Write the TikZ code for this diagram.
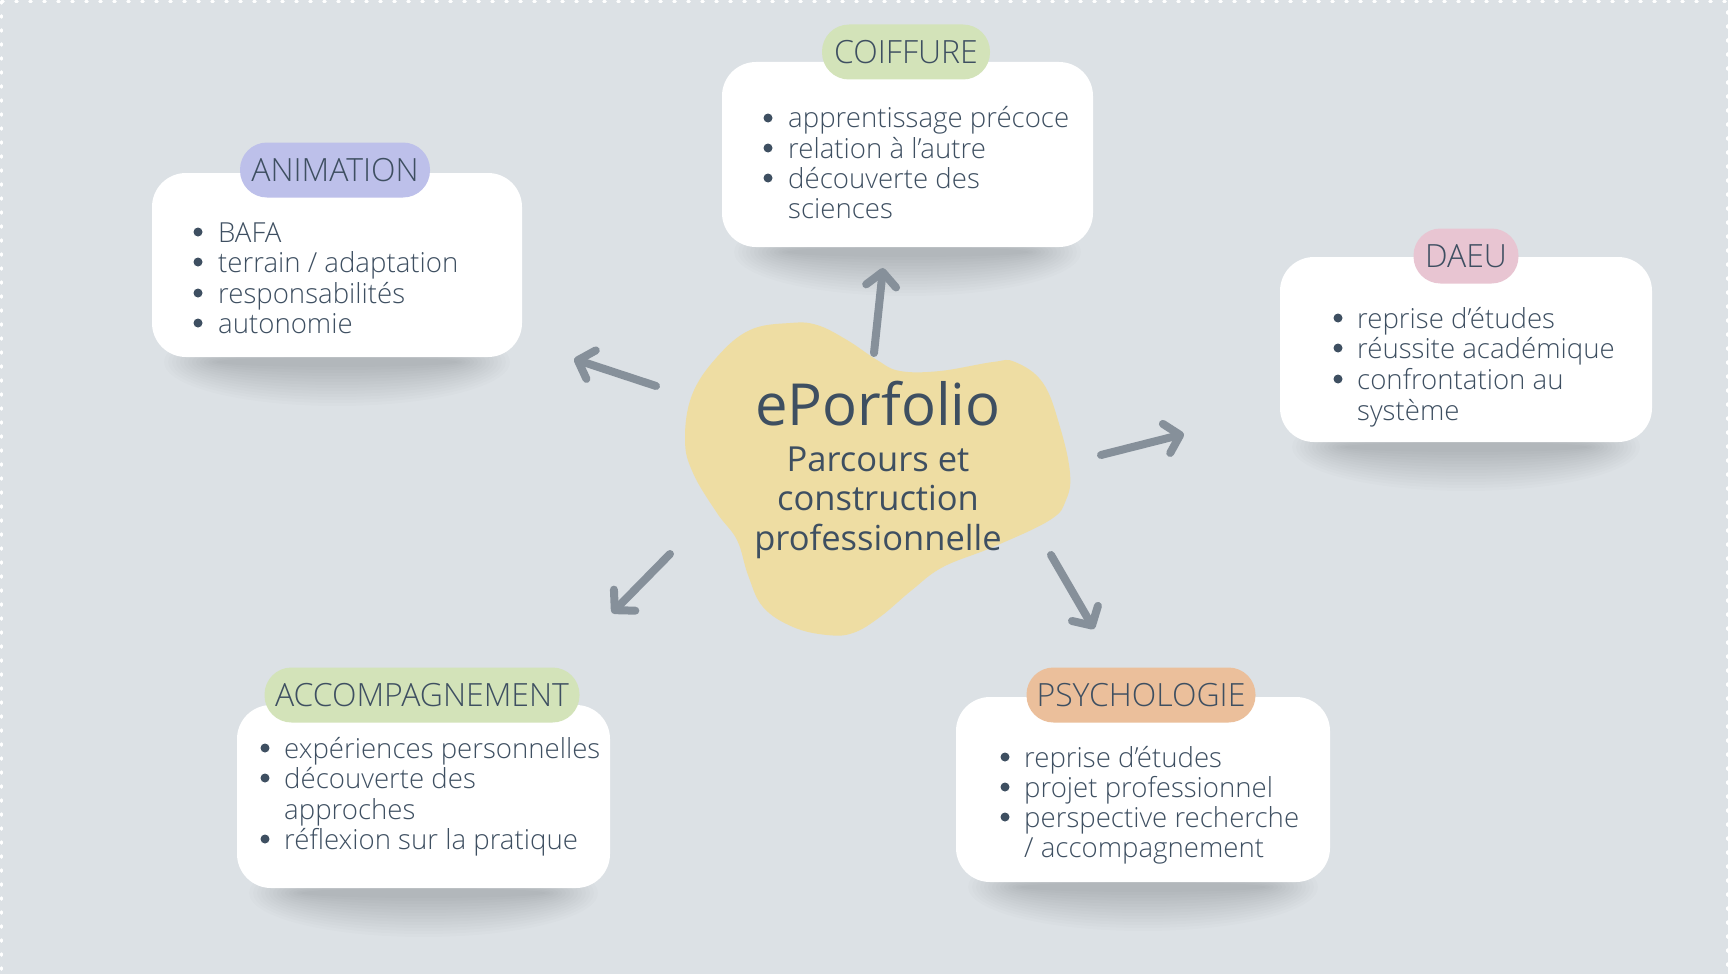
\documentclass[tikz,border=0pt]{standalone}
\usepackage{fontspec}
\setmainfont{Open Sans}
\IfFontExistsTF{Open Sans Light}{\newfontfamily\lightfont{Open Sans Light}}{\newfontfamily\lightfont{Open Sans}}
\usetikzlibrary{arrows.meta}
\definecolor{bg}{HTML}{DCE1E5}
\definecolor{ink}{HTML}{3E4F61}
\definecolor{arr}{HTML}{86909A}
\definecolor{blobc}{HTML}{EEDDA3}
\definecolor{lav}{HTML}{BDC0EA}
\definecolor{sage}{HTML}{D3E3B9}
\definecolor{rose}{HTML}{E8C5D2}
\definecolor{peach}{HTML}{EBBF9B}
\tikzset{
  card/.style={fill=white, rounded corners=34pt, inner sep=0pt},
  pill/.style={rounded corners=27pt, inner sep=0pt, minimum height=55pt, text height=23pt, text depth=0pt, font=\lightfont\fontsize{32}{36}\selectfont, text=ink},
  item/.style={anchor=base west, inner sep=0pt, text=ink, font=\lightfont\fontsize{27.6}{30}\selectfont},
  bdot/.style={circle, fill=ink, inner sep=0pt, minimum size=9pt},
  conn/.style={draw=arr, line width=8pt, line cap=round, -{Straight Barb[length=14pt,width=30pt,round]}},
  ctitle/.style={anchor=base, inner sep=0pt, text=ink},
}
\newcommand{\cardshadow}[3]{% cx, bottom, width
  \foreach \k in {0,...,13}{
    \fill[black, opacity=0.010] (#1,#2+5) ellipse ({#3/2-64+\k*4} and {5+\k*3});
  }
}
\begin{document}
\begin{tikzpicture}[x=1pt,y=-1pt]
\useasboundingbox (0,0) rectangle (1730,974);
\fill[white] (0,0) rectangle (1730,974);
\fill[bg] (0,0) rectangle (1728,974);
\draw[white, line width=2.5pt, dash pattern=on 2pt off 12pt, line cap=round] (1.5,1.5) -- (1727.5,1.5) -- (1727.5,974);
\draw[white, line width=2.5pt, dash pattern=on 2pt off 12pt, line cap=round] (1.5,1.5) -- (1.5,974);

% shadows
\cardshadow{337}{357}{370}
\cardshadow{907.5}{247}{371}
\cardshadow{1466}{442}{372}
\cardshadow{423.5}{888}{373}
\cardshadow{1143}{882}{374}

% cards
\node[card, minimum width=370pt, minimum height=184pt] (animcard) at (337,265) {};
\node[card, minimum width=371pt, minimum height=185pt] (coifcard) at (907.5,154.5) {};
\node[card, minimum width=372pt, minimum height=185pt] (daeucard) at (1466,349.5) {};
\node[card, minimum width=373pt, minimum height=183pt] (acccard) at (423.5,796.5) {};
\node[card, minimum width=374pt, minimum height=185pt] (psycard) at (1143,789.5) {};

% pills
\node[pill, fill=lav, minimum width=190pt] (animpill) at (335,170) {ANIMATION};
\node[pill, fill=sage, minimum width=168pt] (coifpill) at (906,52) {COIFFURE};
\node[pill, fill=rose, minimum width=105pt] (daeupill) at (1466,256) {DAEU};
\node[pill, fill=sage, minimum width=315pt] (accpill) at (422,695) {ACCOMPAGNEMENT};
\node[pill, fill=peach, minimum width=229pt] (psypill) at (1141,695) {PSYCHOLOGIE};

% ANIMATION items
\node[bdot] (a1d) at (198,232) {};
\node[item] (a1) at (218,242) {BAFA};
\node[bdot] (a2d) at (198,262) {};
\node[item] (a2) at (218,272) {terrain / adaptation};
\node[bdot] (a3d) at (198,293) {};
\node[item] (a3) at (218,303) {responsabilités};
\node[bdot] (a4d) at (198,323) {};
\node[item] (a4) at (218,333) {autonomie};

% COIFFURE items
\node[bdot] (c1d) at (768,118) {};
\node[item] (c1) at (788,128) {apprentissage précoce};
\node[bdot] (c2d) at (768,148) {};
\node[item] (c2) at (788,158) {relation à l’autre};
\node[bdot] (c3d) at (768,178) {};
\node[item] (c3) at (788,188) {découverte des};
\node[item] (c3b) at (788,218) {sciences};

% DAEU items
\node[bdot] (d1d) at (1338,318) {};
\node[item] (d1) at (1357,328) {reprise d’études};
\node[bdot] (d2d) at (1338,348) {};
\node[item] (d2) at (1357,358) {réussite académique};
\node[bdot] (d3d) at (1338,379) {};
\node[item] (d3) at (1357,389) {confrontation au};
\node[item] (d3b) at (1357,420) {système};

% ACCOMPAGNEMENT items
\node[bdot] (e1d) at (265,748) {};
\node[item] (e1) at (284,758) {expériences personnelles};
\node[bdot] (e2d) at (265,778) {};
\node[item] (e2) at (284,788) {découverte des};
\node[item] (e2b) at (284,819) {approches};
\node[bdot] (e3d) at (265,839) {};
\node[item] (e3) at (284,849) {réflexion sur la pratique};

% PSYCHOLOGIE items
\node[bdot] (p1d) at (1005,757) {};
\node[item] (p1) at (1024,767) {reprise d’études};
\node[bdot] (p2d) at (1005,787) {};
\node[item] (p2) at (1024,797) {projet professionnel};
\node[bdot] (p3d) at (1005,817) {};
\node[item] (p3) at (1024,827) {perspective recherche};
\node[item] (p3b) at (1024,857) {/ accompagnement};

% central blob
\fill[blobc] plot[smooth cycle, tension=0.65] coordinates {
  (790,323) (817,325) (847,340) (877,360) (900,371) (940,371) (993,362) (1015,362)
  (1043,383) (1060,427) (1070,473) (1066,500) (1050,520) (993,547) (943,567)
  (912,590) (880,617) (853,633) (827,635) (793,627) (763,607) (748,575)
  (737,540) (717,513) (693,473) (685,440) (692,395) (717,357) (750,330)};
\node[ctitle, font=\fontsize{58}{64}\selectfont] (title) at (878,425) {ePorfolio};
\node[ctitle, font=\fontsize{34.5}{40}\selectfont] (sub1) at (878,471) {Parcours et};
\node[ctitle, font=\fontsize{34.5}{40}\selectfont] (sub2) at (878,510) {construction};
\node[ctitle, font=\fontsize{34.5}{40}\selectfont] (sub3) at (878,550) {professionnelle};

% arrows
\coordinate (su) at (874,353); \coordinate (eu) at (883,268);
\coordinate (sl) at (656,386); \coordinate (el) at (574,359);
\coordinate (sr) at (1101,455); \coordinate (er) at (1184,434);
\coordinate (sdl) at (670,554); \coordinate (edl) at (612,613);
\coordinate (sdr) at (1051,555); \coordinate (edr) at (1094,629);
\draw[conn] (su) -- (eu);
\draw[conn] (sl) -- (el);
\draw[conn] (sr) -- (er);
\draw[conn] (sdl) -- (edl);
\draw[conn] (sdr) -- (edr);
\end{tikzpicture}
\end{document}
